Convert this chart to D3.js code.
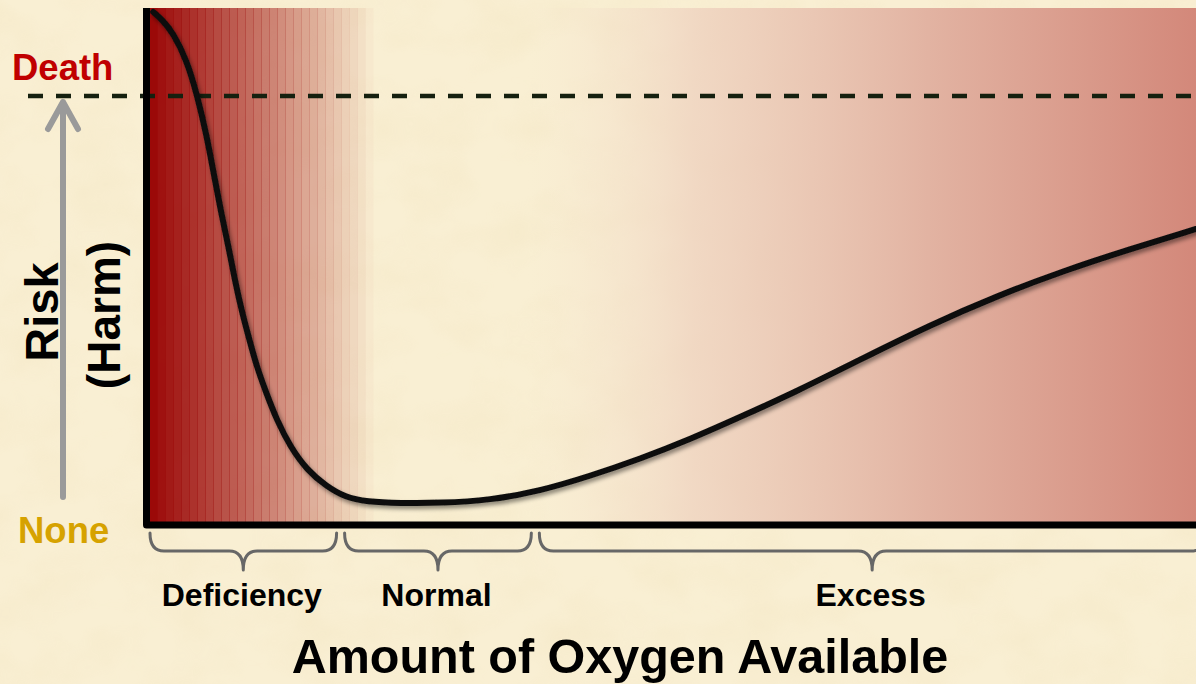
<!DOCTYPE html>
<html>
<head>
<meta charset="utf-8">
<script src="https://cdn.jsdelivr.net/npm/d3@7"></script>
<style>
  html, body { margin: 0; padding: 0; background: #f9efd3; }
  svg { display: block; }
  text { font-family: "Liberation Sans", Arial, Helvetica, sans-serif; font-weight: bold; }
</style>
</head>
<body>
<svg id="chart" width="1196" height="684"></svg>
<script>
// ---- data ----
const oxygen = [0.4, 1.3, 2.3, 3.6, 4.6, 5.5, 6.3, 6.9, 7.6, 8.2, 8.9, 9.6, 10.3, 11.2, 12.2, 13.5, 15.1, 16.9, 18.7, 20.8, 24.0, 27.8, 32.6, 37.3, 42.1, 46.9, 51.7, 56.5, 61.9, 68.2, 74.6, 81.0, 87.3, 93.7, 100];
const risk   = [119.6, 117.7, 114.7, 108.4, 100.2, 90.9, 80.4, 72.7, 64.8, 57.1, 49.4, 43.1, 36.8, 30.8, 24.5, 18.2, 12.8, 9.1, 6.5, 5.4, 5.1, 5.1, 5.8, 7.9, 11.4, 15.4, 20.0, 25.2, 31.2, 38.9, 46.6, 53.4, 59.2, 64.3, 69.0];
const regionNames  = ["Deficiency", "Normal", "Excess"];
const regionBounds = [0, 18.3, 36.9, 100];
const levelLabels  = ["None", "Death"];
const levelValues  = [0, 100];
const xTitle = "Amount of Oxygen Available";
const yTitle = ["Risk", "(Harm)"];

(function () {
// ---- layout ----
const W = 1196, H = 684;
const pLeft = 149, pRight = 1196, pBottom = 525, deathY = 96, pTop = 8;
const x = d3.scaleLinear().domain([0, 100]).range([pLeft, pRight]);
const y = d3.scaleLinear().domain([0, 100]).range([pBottom, deathY]);

const svg = d3.select("#chart");
const defs = svg.append("defs");

// paper texture
const tex = defs.append("filter").attr("id", "paper").attr("x", 0).attr("y", 0).attr("width", "100%").attr("height", "100%");
tex.append("feTurbulence").attr("type", "fractalNoise").attr("baseFrequency", "0.015 0.02").attr("numOctaves", 3).attr("seed", 7).attr("result", "n");
tex.append("feColorMatrix").attr("in", "n").attr("type", "matrix")
  .attr("values", "0 0 0 0 0.85  0 0 0 0 0.72  0 0 0 0 0.45  0 0 0 -1.2 0.75");

svg.append("rect").attr("width", W).attr("height", H).attr("fill", "#f9efd3");
svg.append("rect").attr("width", W).attr("height", H).attr("filter", "url(#paper)").attr("opacity", 0.35);

// right-side pink gradient (excess)
const rg = defs.append("linearGradient").attr("id", "rightGrad").attr("x1", 0).attr("x2", 1).attr("y1", 0).attr("y2", 0);
rg.append("stop").attr("offset", 0).attr("stop-color", "#f6e6d0").attr("stop-opacity", 0);
rg.append("stop").attr("offset", 0.25).attr("stop-color", "#efd3c0").attr("stop-opacity", 0.8);
rg.append("stop").attr("offset", 0.6).attr("stop-color", "#e2b3a2").attr("stop-opacity", 1);
rg.append("stop").attr("offset", 1).attr("stop-color", "#d3887a").attr("stop-opacity", 1);
svg.append("rect")
  .attr("x", x(36)).attr("y", pTop).attr("width", pRight - x(36)).attr("height", pBottom - pTop)
  .attr("fill", "url(#rightGrad)");

// left red stepped bands (deficiency)
const bandW = 8;
const bandEnd = x(21.5);
const bands = d3.range(pLeft, bandEnd, bandW);
const op = d3.scaleLinear().domain([pLeft, bandEnd]).range([1, 0]);
svg.append("g").selectAll("rect").data(bands).join("rect")
  .attr("x", d => d).attr("y", pTop).attr("width", bandW + 0.5).attr("height", pBottom - pTop)
  .attr("fill", "#990404")
  .attr("opacity", d => Math.max(0, op(d + bandW / 2)));

// death dashed line
svg.append("line")
  .attr("x1", 28).attr("x2", W).attr("y1", y(100)).attr("y2", y(100))
  .attr("stroke", "#15200f").attr("stroke-width", 4.5).attr("stroke-dasharray", "15 13");

// curve with shadow
const sh = defs.append("filter").attr("id", "shadow").attr("x", "-10%").attr("y", "-10%").attr("width", "120%").attr("height", "120%");
sh.append("feDropShadow").attr("dx", 2).attr("dy", 3).attr("stdDeviation", 2).attr("flood-color", "#000").attr("flood-opacity", 0.45);

const pts = oxygen.map((o, i) => [o, risk[i]]);
const line = d3.line().x(d => x(d[0])).y(d => y(d[1])).curve(d3.curveBasis);
svg.append("path").datum(pts)
  .attr("d", line)
  .attr("fill", "none").attr("stroke", "#111").attr("stroke-width", 6)
  .attr("stroke-linecap", "round").attr("filter", "url(#shadow)");

// axes (frame)
svg.append("path")
  .attr("d", `M${pLeft - 2.5},${pTop} V${pBottom} H${W + 5}`)
  .attr("fill", "none").attr("stroke", "#000").attr("stroke-width", 7).attr("stroke-linejoin", "round");

// gray arrow
const ax = 63;
svg.append("path")
  .attr("d", `M${ax},${pBottom - 28} V${deathY + 6} M${ax - 15},${deathY + 33} L${ax},${deathY + 6} L${ax + 15},${deathY + 33}`)
  .attr("fill", "none").attr("stroke", "#9a9a9a").attr("stroke-width", 6)
  .attr("stroke-linecap", "round").attr("stroke-linejoin", "round");

// level labels
svg.append("text").attr("x", 12).attr("y", y(levelValues[1]) - 16)
  .attr("font-size", 36.5).attr("fill", "#c00000").text(levelLabels[1]);
svg.append("text").attr("x", 18).attr("y", y(levelValues[0]) + 18)
  .attr("font-size", 36.5).attr("fill", "#d6a200").text(levelLabels[0]);

// y title
svg.append("text").attr("transform", "translate(58,312) rotate(-90)")
  .attr("text-anchor", "middle").attr("font-size", 47).attr("fill", "#000").text(yTitle[0]);
svg.append("text").attr("transform", "translate(120,315) rotate(-90)")
  .attr("text-anchor", "middle").attr("font-size", 46).attr("fill", "#000").text(yTitle[1]);

// braces
const bTop = 533, bMid = 551, bTip = 570, r = 14;
function brace(x0, x1) {
  const m = (x0 + x1) / 2;
  return `M${x0},${bTop} Q${x0},${bMid} ${x0 + r},${bMid} L${m - r},${bMid} Q${m},${bMid} ${m},${bTip}` +
         ` M${m},${bTip} Q${m},${bMid} ${m + r},${bMid} L${x1 - r},${bMid} Q${x1},${bMid} ${x1},${bTop}`;
}
const regions = regionNames.map((n, i) => ({ name: n, a: regionBounds[i], b: regionBounds[i + 1] }));
const edge = d => [x(d.a) + (d.a === 0 ? 1 : 4), x(d.b) + (d.b === 100 ? 9 : -4)];
const gB = svg.append("g");
gB.selectAll("path").data(regions).join("path")
  .attr("d", d => brace(...edge(d)))
  .attr("fill", "none").attr("stroke", "#676767").attr("stroke-width", 3).attr("stroke-linecap", "round");
gB.selectAll("text").data(regions).join("text")
  .attr("x", d => d3.mean(edge(d)) - 1.5)
  .attr("y", 606).attr("text-anchor", "middle").attr("font-size", 32).attr("fill", "#000")
  .text(d => d.name);

// x title
svg.append("text").attr("x", 620).attr("y", 673).attr("text-anchor", "middle")
  .attr("font-size", 48.5).attr("fill", "#000").text(xTitle);
})();
</script>
</body>
</html>
